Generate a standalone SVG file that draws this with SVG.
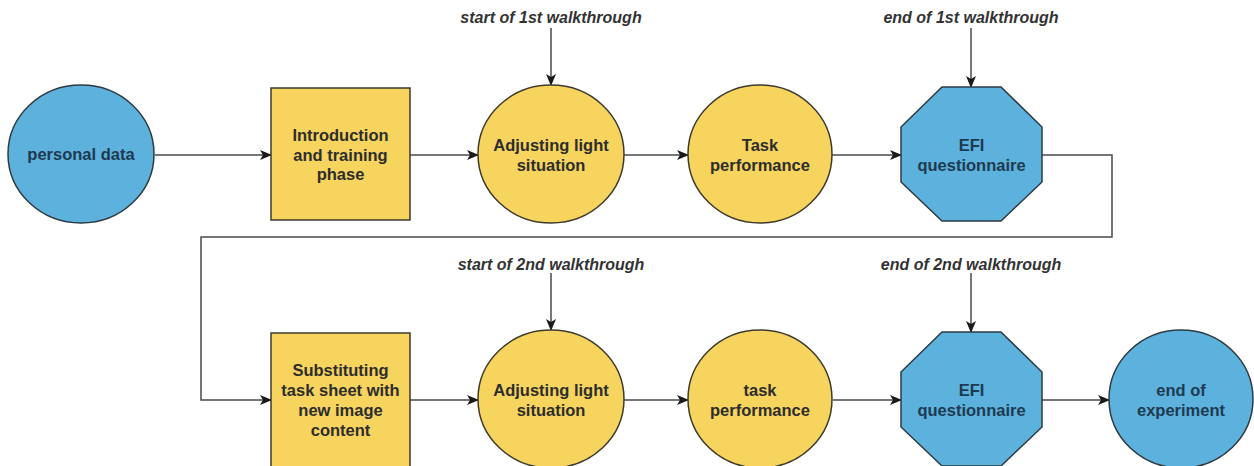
<svg xmlns="http://www.w3.org/2000/svg" width="1254" height="466" viewBox="0 0 1254 466">
<defs>
<style>
.blue{fill:#5db2dd;stroke:#2e3a42;stroke-width:1.5}
.yel{fill:#f7d45e;stroke:#3d3a2e;stroke-width:1.5}
.lbl{font-family:"Liberation Sans",Arial,sans-serif;font-weight:bold;font-size:16.5px;fill:#2d2d2d;text-anchor:middle}
.blbl{fill:#1e3a50}
.note{font-family:"Liberation Sans",Arial,sans-serif;font-weight:bold;font-style:italic;font-size:16px;fill:#333;text-anchor:middle}
.con{fill:none;stroke:#4a4a4a;stroke-width:1.5}
</style>
<marker id="ah" viewBox="0 0 12 10" refX="11" refY="5" markerWidth="12" markerHeight="10" markerUnits="userSpaceOnUse" orient="auto">
<path d="M0,0 L12,5 L0,10 L3,5 Z" fill="#1a1a1a"/>
</marker>
</defs>
<rect width="1254" height="466" fill="#ffffff"/>
<g id="connectors">
<path class="con" d="M155,155 H271" marker-end="url(#ah)"/>
<path class="con" d="M410,155 H478" marker-end="url(#ah)"/>
<path class="con" d="M624,155 H688" marker-end="url(#ah)"/>
<path class="con" d="M832,155 H901" marker-end="url(#ah)"/>
<path class="con" d="M1042,155 H1112 V237 H201 V400 H271" marker-end="url(#ah)"/>
<path class="con" d="M410,400 H478" marker-end="url(#ah)"/>
<path class="con" d="M624,400 H688" marker-end="url(#ah)"/>
<path class="con" d="M833,400 H901" marker-end="url(#ah)"/>
<path class="con" d="M1042,400 H1109" marker-end="url(#ah)"/>
<path class="con" d="M551,28 V85" marker-end="url(#ah)"/>
<path class="con" d="M971,28 V87" marker-end="url(#ah)"/>
<path class="con" d="M551,273 V330" marker-end="url(#ah)"/>
<path class="con" d="M971,273 V332" marker-end="url(#ah)"/>
</g>
<g id="labels">
<text class="note" x="551" y="23">start of 1st walkthrough</text>
<text class="note" x="971" y="23">end of 1st walkthrough</text>
<text class="note" x="551" y="270">start of 2nd walkthrough</text>
<text class="note" x="971" y="270">end of 2nd walkthrough</text>
</g>
<g id="personal-data">
<ellipse class="blue" cx="81" cy="154" rx="73" ry="69"/>
<text class="lbl blbl" x="81" y="160">personal data</text>
</g>
<g id="intro">
<rect class="yel" x="271" y="88" width="139" height="132"/>
<text class="lbl" x="340.5" y="141">Introduction</text>
<text class="lbl" x="340.5" y="160.5">and training</text>
<text class="lbl" x="340.5" y="180">phase</text>
</g>
<g id="adjust1">
<ellipse class="yel" cx="551" cy="154" rx="73" ry="69"/>
<text class="lbl" x="551" y="151">Adjusting light</text>
<text class="lbl" x="551" y="171">situation</text>
</g>
<g id="task1">
<ellipse class="yel" cx="760" cy="154" rx="72" ry="69"/>
<text class="lbl" x="760" y="151">Task</text>
<text class="lbl" x="760" y="171">performance</text>
</g>
<g id="efi1">
<polygon class="blue" points="942,87 1001,87 1042,127 1042,182 1001,221 942,221 901,182 901,127"/>
<text class="lbl blbl" x="971.5" y="151">EFI</text>
<text class="lbl blbl" x="971.5" y="171">questionnaire</text>
</g>
<g id="substitute">
<rect class="yel" x="271" y="333" width="139" height="140"/>
<text class="lbl" x="340.5" y="376">Substituting</text>
<text class="lbl" x="340.5" y="396">task sheet with</text>
<text class="lbl" x="340.5" y="416">new image</text>
<text class="lbl" x="340.5" y="436">content</text>
</g>
<g id="adjust2">
<ellipse class="yel" cx="551" cy="399" rx="73" ry="69"/>
<text class="lbl" x="551" y="396">Adjusting light</text>
<text class="lbl" x="551" y="416">situation</text>
</g>
<g id="task2">
<ellipse class="yel" cx="760" cy="399" rx="72" ry="69"/>
<text class="lbl" x="760" y="396">task</text>
<text class="lbl" x="760" y="416">performance</text>
</g>
<g id="efi2">
<polygon class="blue" points="942,332 1001,332 1042,372 1042,427 1001,466 942,466 901,427 901,372"/>
<text class="lbl blbl" x="971.5" y="396">EFI</text>
<text class="lbl blbl" x="971.5" y="416">questionnaire</text>
</g>
<g id="end">
<ellipse class="blue" cx="1181" cy="399" rx="72" ry="69"/>
<text class="lbl blbl" x="1181" y="396">end of</text>
<text class="lbl blbl" x="1181" y="416">experiment</text>
</g>
</svg>
